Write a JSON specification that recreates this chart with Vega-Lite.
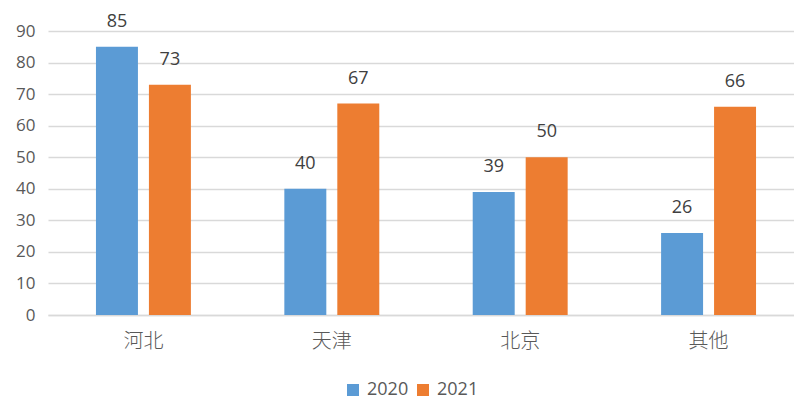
{
  "$schema": "https://vega.github.io/schema/vega-lite/v6.json",
  "width": 742,
  "height": 284,
  "autosize": {"type": "none"},
  "padding": {"left": 48, "top": 31, "right": 4, "bottom": 85},
  "data": {"values": [
    {"region": "河北", "year": "2020", "value": 85},
    {"region": "河北", "year": "2021", "value": 73},
    {"region": "天津", "year": "2020", "value": 40},
    {"region": "天津", "year": "2021", "value": 67},
    {"region": "北京", "year": "2020", "value": 39},
    {"region": "北京", "year": "2021", "value": 50},
    {"region": "其他", "year": "2020", "value": 26},
    {"region": "其他", "year": "2021", "value": 66}
  ]},
  "encoding": {
    "x": {"field": "region", "type": "nominal", "sort": ["河北", "天津", "北京", "其他"],
      "scale": {"paddingInner": 0.496, "paddingOuter": 0.2546, "range": [0, 756]},
      "axis": {"title": null, "labelAngle": 0, "ticks": false, "domainColor": "#d9d9d9", "domainWidth": 1.5,
        "labelFontSize": 20, "labelColor": "#595959", "labelPadding": 16, "labelFont": "Noto Sans CJK SC", "labelFontWeight": 300}},
    "xOffset": {"field": "year", "type": "nominal", "scale": {"paddingInner": 0.2075, "paddingOuter": 0}},
    "y": {"field": "value", "type": "quantitative",
      "scale": {"domain": [0, 90], "nice": false},
      "axis": {"title": null, "values": [0,10,20,30,40,50,60,70,80,90], "ticks": false, "domain": false,
        "gridColor": "#d9d9d9", "gridWidth": 1.5, "labelFontSize": 17, "labelColor": "#595959", "labelPadding": 13,
        "labelFont": "Open Sans"}}
  },
  "layer": [
    {"mark": {"type": "bar"},
     "encoding": {"color": {"field": "year", "type": "nominal",
       "scale": {"domain": ["2020", "2021"], "range": ["#5B9BD5", "#ED7D31"]},
       "legend": {"title": null, "orient": "none", "direction": "horizontal", "legendX": 296, "legendY": 350,
         "symbolType": "square", "symbolSize": 144, "symbolStrokeWidth": 0, "symbolOpacity": 1, "labelOffset": 5,
         "labelFontSize": 18, "labelColor": "#595959", "labelFont": "Open Sans", "columnPadding": 5}}}},
    {"mark": {"type": "text", "baseline": "alphabetic", "dy": -20, "fontSize": 18, "color": "#404040", "font": "Open Sans"},
     "encoding": {"text": {"field": "value", "type": "quantitative"}}}
  ],
  "config": {"view": {"stroke": null}}
}
